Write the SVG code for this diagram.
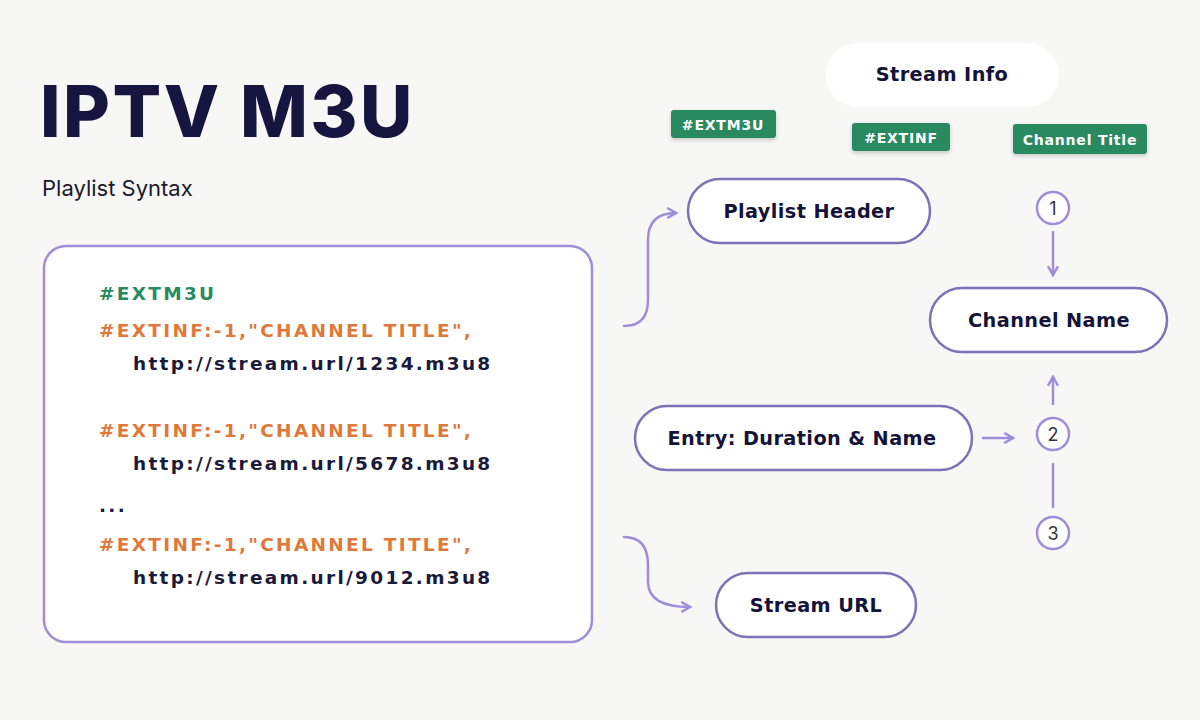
<svg xmlns="http://www.w3.org/2000/svg" width="1200" height="720" viewBox="0 0 1200 720">
<defs>
<marker id="ah" viewBox="0 0 10 10" refX="8" refY="5" markerWidth="5" markerHeight="5" orient="auto"><path d="M1 1 L8 5 L1 9" fill="none" stroke="#9f8ddb" stroke-width="2"/></marker>
<filter id="sh" x="-20%" y="-40%" width="140%" height="180%"><feDropShadow dx="0" dy="2" stdDeviation="2" flood-opacity="0.2"/></filter>
</defs>
<style>
text{font-family:Inter,"DejaVu Sans",sans-serif}
.pill{fill:#fff;stroke:#7d72b8;stroke-width:2.5}
.lbl{font-family:"DejaVu Sans",sans-serif;font-size:19.3px;font-weight:700;fill:#14133a;text-anchor:middle;letter-spacing:0.4px}
.tag{fill:#2a8a5f}
.tagt{font-family:"DejaVu Sans",sans-serif;font-size:14px;font-weight:700;fill:#fff;text-anchor:middle;letter-spacing:0.8px}
.code{font-family:"DejaVu Sans",sans-serif;font-size:18.5px;font-weight:700;letter-spacing:2.3px}
.g{fill:#2a8a5f}.o{fill:#e0783a}.d{fill:#1a1a3a}
.con{fill:none;stroke:#9f8ddb;stroke-width:2.5;stroke-linecap:round}
.circ{fill:#fff;stroke:#9f8ddb;stroke-width:2.5}
.num{font-size:18px;fill:#333;text-anchor:middle}
</style>
<rect width="1200" height="720" fill="#f7f7f6"/>
<text x="40" y="137" font-size="72" font-weight="800" fill="#15153f" letter-spacing="2.5">IPTV M3U</text>
<text x="42" y="196" font-size="22" fill="#1a1a2a">Playlist Syntax</text>
<g id="code">
<rect x="44" y="246" width="548" height="396" rx="22" fill="#fff" stroke="#a08fd8" stroke-width="2.5"/>
<text x="99" y="300" class="code g">#EXTM3U</text>
<text x="99" y="337" class="code o">#EXTINF:-1,"CHANNEL TITLE",</text>
<text x="133" y="370" class="code d">http://stream.url/1234.m3u8</text>
<text x="99" y="437" class="code o">#EXTINF:-1,"CHANNEL TITLE",</text>
<text x="133" y="470" class="code d">http://stream.url/5678.m3u8</text>
<text x="99" y="512" class="code d">...</text>
<text x="99" y="551" class="code o">#EXTINF:-1,"CHANNEL TITLE",</text>
<text x="133" y="584" class="code d">http://stream.url/9012.m3u8</text>
</g>
<g id="stream-info"><rect x="826" y="43" width="233" height="64" rx="32" fill="#fff"/><text x="942" y="81" class="lbl">Stream Info</text></g>
<g id="tag-extm3u"><rect x="671" y="110" width="105" height="28" rx="3" class="tag" filter="url(#sh)"/><text x="723" y="130" class="tagt">#EXTM3U</text></g>
<g id="tag-extinf"><rect x="852" y="123" width="98" height="28" rx="3" class="tag" filter="url(#sh)"/><text x="901" y="143" class="tagt">#EXTINF</text></g>
<g id="tag-title"><rect x="1013" y="124" width="134" height="30" rx="3" class="tag" filter="url(#sh)"/><text x="1080" y="145" class="tagt">Channel Title</text></g>
<g id="playlist-header"><rect x="688" y="179" width="242" height="64" rx="32" class="pill"/><text x="809" y="218" class="lbl">Playlist Header</text></g>
<g id="channel-name"><rect x="930" y="288" width="237" height="64" rx="32" class="pill"/><text x="1049" y="327" class="lbl">Channel Name</text></g>
<g id="entry"><rect x="635" y="406" width="337" height="64" rx="32" class="pill"/><text x="802" y="445" class="lbl">Entry: Duration &amp; Name</text></g>
<g id="stream-url"><rect x="716" y="573" width="200" height="64" rx="32" class="pill"/><text x="816" y="612" class="lbl">Stream URL</text></g>
<g id="c1"><circle cx="1053" cy="208" r="16" class="circ"/><text x="1053" y="215" class="num">1</text></g>
<g id="c2"><circle cx="1053" cy="434" r="16" class="circ"/><text x="1053" y="441" class="num">2</text></g>
<g id="c3"><circle cx="1053" cy="533" r="16" class="circ"/><text x="1053" y="540" class="num">3</text></g>
<g id="connectors">
<path class="con" d="M624 326 Q648 326 648 300 V240 Q648 213 676 213" marker-end="url(#ah)"/>
<path class="con" d="M624 537 Q648 537 648 565 V582 Q648 607 690 607" marker-end="url(#ah)"/>
<path class="con" d="M1053 232 V275" marker-end="url(#ah)"/>
<path class="con" d="M1053 404 V377" marker-end="url(#ah)"/>
<path class="con" d="M983 438 H1013" marker-end="url(#ah)"/>
<path class="con" d="M1053 464 V507"/>
</g>
</svg>
